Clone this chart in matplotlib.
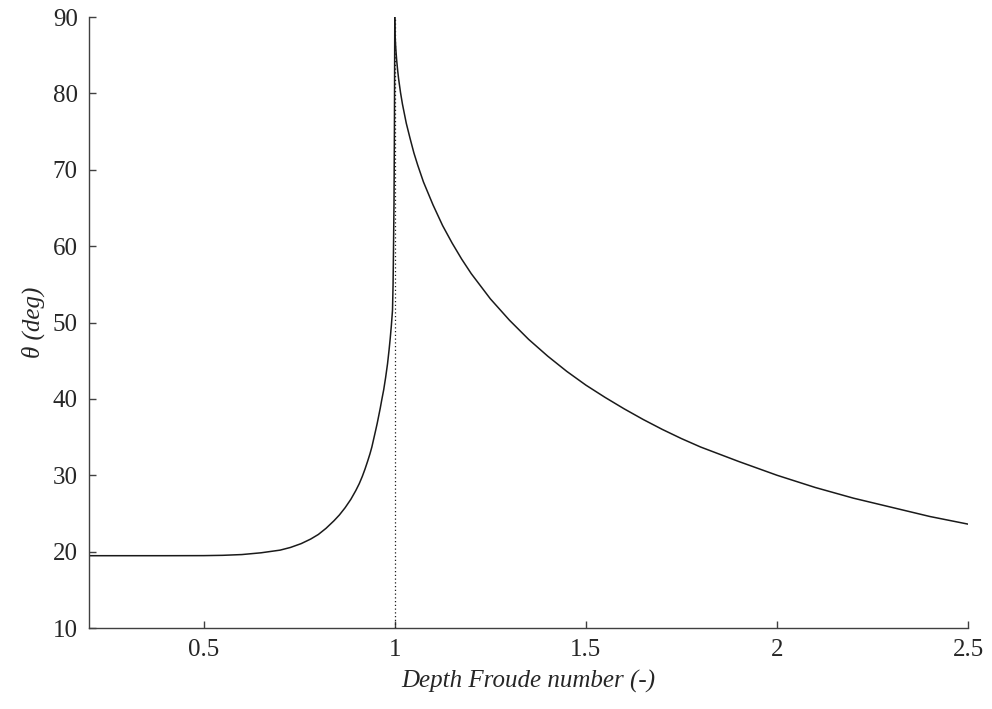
import matplotlib
matplotlib.use("Agg")
from matplotlib import pyplot as plt

# values
fr_sub = [0.2, 0.3, 0.4, 0.5, 0.55, 0.6, 0.65, 0.7, 0.727, 0.755, 0.78, 0.8,
          0.82, 0.841, 0.855, 0.87, 0.885, 0.898, 0.907, 0.915, 0.922, 0.929,
          0.935, 0.94, 0.945, 0.95, 0.954, 0.958, 0.962, 0.966, 0.971, 0.976,
          0.981, 0.985, 0.988, 0.991, 0.994, 0.9955, 0.9966, 0.998, 0.999, 1.0]
theta_sub = [19.47, 19.47, 19.47, 19.48, 19.52, 19.62, 19.85, 20.2, 20.55,
             21.05, 21.65, 22.25, 23.05, 24.05, 24.8, 25.75, 26.85, 28.0, 28.9,
             29.85, 30.8, 31.85, 32.8, 33.7, 34.8, 35.9, 36.8, 37.8, 38.8, 39.9,
             41.2, 42.8, 44.6, 46.4, 47.9, 49.6, 51.6, 55.0, 59.5, 66.0, 75.0,
             90.0]

fr_sup = [1.0, 1.001, 1.002, 1.003, 1.005, 1.0075, 1.01, 1.015, 1.02, 1.03,
          1.04, 1.05, 1.06, 1.075, 1.1, 1.125, 1.15, 1.175, 1.2, 1.25, 1.3,
          1.35, 1.4, 1.45, 1.5, 1.55, 1.6, 1.65, 1.7, 1.75, 1.8, 1.9, 2.0,
          2.1, 2.2, 2.25, 2.3, 2.35, 2.4, 2.45, 2.5]
theta_sup = [90.0, 87.4, 86.4, 85.6, 84.3, 83.0, 81.9, 80.1, 78.6, 76.1, 74.1,
             72.2, 70.6, 68.4, 65.4, 62.7, 60.4, 58.3, 56.4, 53.1, 50.3, 47.8,
             45.6, 43.6, 41.8, 40.2, 38.7, 37.3, 36.0, 34.8, 33.7, 31.8, 30.0,
             28.4, 27.0, 26.4, 25.8, 25.2, 24.6, 24.1, 23.6]

x_ticks = [0.5, 1, 1.5, 2, 2.5]
y_ticks = [10, 20, 30, 40, 50, 60, 70, 80, 90]

plt.rcParams['font.family'] = ['Liberation Serif', 'DejaVu Serif']

fig = plt.figure(figsize=(9.92, 7.09), dpi=100)
ax = fig.add_axes([0.0897, 0.1142, 0.8863, 0.8618])

ax.plot(fr_sub, theta_sub, color='#1a1a1a', lw=1.1)
ax.plot(fr_sup, theta_sup, color='#1a1a1a', lw=1.1)
ax.plot([1, 1], [10, 90], color='#1a1a1a', lw=0.9, ls=(0, (1, 2)))

ax.set_xlim(0.2, 2.5)
ax.set_ylim(10, 90)
ax.set_xticks(x_ticks)
ax.set_xticklabels(['0.5', '1', '1.5', '2', '2.5'])
ax.set_yticks(y_ticks)

for s in ['top', 'right']:
    ax.spines[s].set_visible(False)
for s in ['left', 'bottom']:
    ax.spines[s].set_color('#404040')
    ax.spines[s].set_linewidth(1.0)

ax.tick_params(direction='in', length=5, width=1, color='#404040',
               labelsize=18, labelcolor='#262626', pad=8)

ax.set_xlabel('Depth Froude number (-)', fontsize=18, style='italic',
              color='#262626', labelpad=6)
ax.set_ylabel('θ (deg)', fontsize=18, style='italic',
              color='#262626', labelpad=6)

fig.savefig('out.png', dpi=100)
